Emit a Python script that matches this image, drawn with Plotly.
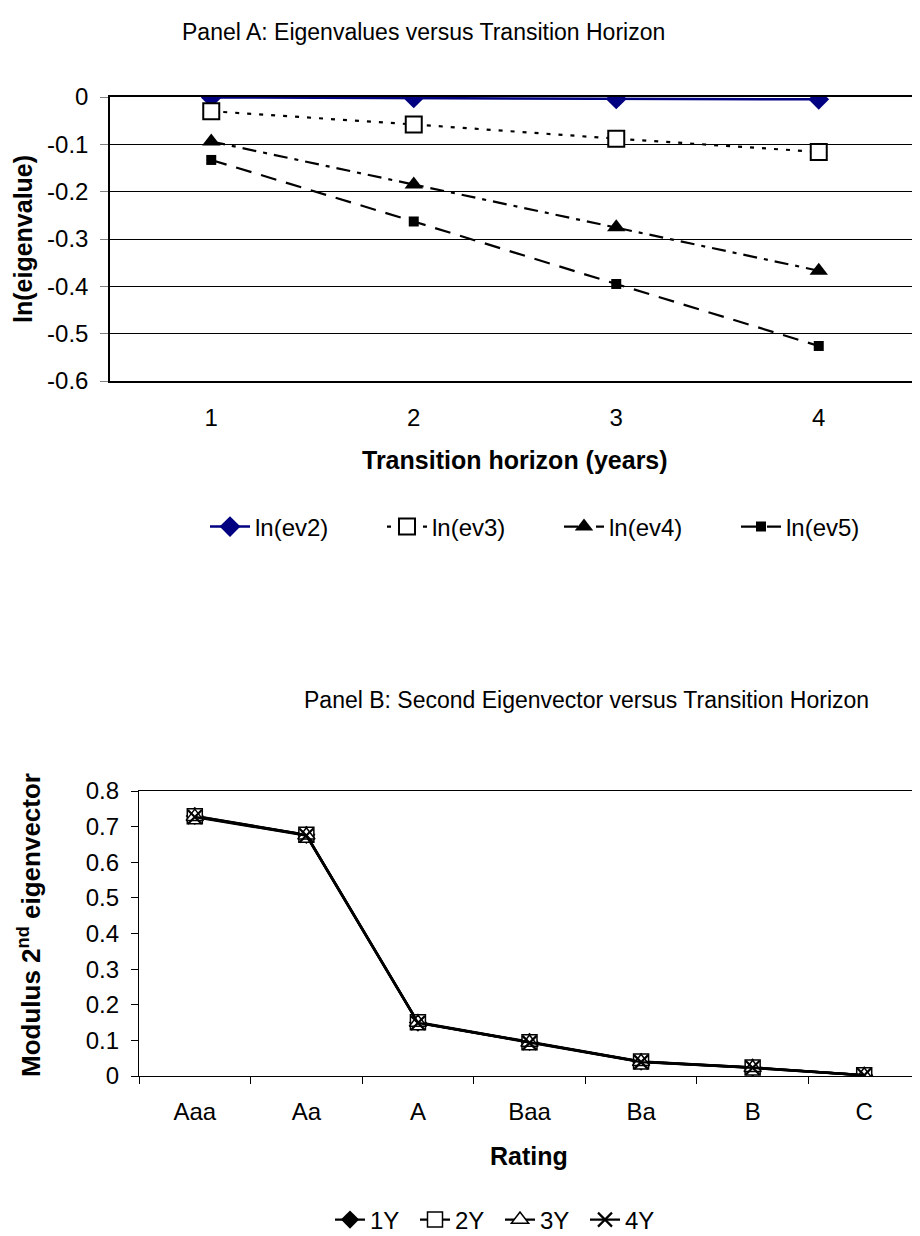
import plotly.graph_objects as go

# Panel A data
horizon = [1, 2, 3, 4]
ln_ev2 = [-0.001, -0.002, -0.004, -0.005]
ln_ev3 = [-0.030, -0.058, -0.088, -0.116]
ln_ev4 = [-0.094, -0.185, -0.275, -0.367]
ln_ev5 = [-0.133, -0.263, -0.395, -0.526]
a_ytick_vals = [0, -0.1, -0.2, -0.3, -0.4, -0.5, -0.6]
a_ytick_text = ["0", "-0.1", "-0.2", "-0.3", "-0.4", "-0.5", "-0.6"]

# Panel B data
ratings = ["Aaa", "Aa", "A", "Baa", "Ba", "B", "C"]
ev_1y = [0.730, 0.677, 0.150, 0.096, 0.040, 0.024, 0.002]
ev_2y = [0.729, 0.677, 0.151, 0.095, 0.041, 0.024, 0.002]
ev_3y = [0.728, 0.676, 0.150, 0.094, 0.040, 0.023, 0.002]
ev_4y = [0.727, 0.675, 0.149, 0.093, 0.039, 0.023, 0.002]
b_ytick_vals = [0, 0.1, 0.2, 0.3, 0.4, 0.5, 0.6, 0.7, 0.8]
b_ytick_text = ["0", "0.1", "0.2", "0.3", "0.4", "0.5", "0.6", "0.7", "0.8"]

FONT = "Liberation Sans, Arial, sans-serif"
OFF = 8                      # page body margin in the browser
W, H = 920 - OFF, 1236 - OFF
FS = 24


def px(X):
    return (X - OFF) / W


def py(Y):
    return 1 - (Y - OFF) / H


fig = go.Figure()

# Panel A
fig.add_trace(go.Scatter(x=horizon, y=ln_ev2, name="ln(ev2)", mode="lines+markers",
                         line=dict(color="#000080", width=2.5),
                         marker=dict(symbol="diamond", size=16, color="#000080"),
                         xaxis="x", yaxis="y", legend="legend"))
fig.add_trace(go.Scatter(x=horizon, y=ln_ev3, name="ln(ev3)", mode="lines+markers",
                         line=dict(color="black", width=2.2, dash="4px,8px"),
                         marker=dict(symbol="square", size=16, color="white",
                                     line=dict(color="black", width=2)),
                         xaxis="x", yaxis="y", legend="legend"))
fig.add_trace(go.Scatter(x=horizon, y=ln_ev4, name="ln(ev4)", mode="lines+markers",
                         line=dict(color="black", width=2.2, dash="14px,7px,4px,7px"),
                         marker=dict(symbol="triangle-up", size=16, color="black"),
                         xaxis="x", yaxis="y", legend="legend"))
fig.add_trace(go.Scatter(x=horizon, y=ln_ev5, name="ln(ev5)", mode="lines+markers",
                         line=dict(color="black", width=2.2, dash="16px,10px"),
                         marker=dict(symbol="square", size=10, color="black"),
                         xaxis="x", yaxis="y", legend="legend"))

# Panel B
b_specs = [
    ("1Y", ev_1y, dict(symbol="diamond", size=14, color="black")),
    ("2Y", ev_2y, dict(symbol="square", size=15, color="white", line=dict(color="black", width=1.5))),
    ("3Y", ev_3y, dict(symbol="triangle-up", size=15, color="white", line=dict(color="black", width=1.5))),
    ("4Y", ev_4y, dict(symbol="x-thin", size=14, color="black", line=dict(color="black", width=2.2))),
]
for name, vals, mk in b_specs:
    fig.add_trace(go.Scatter(x=ratings, y=vals, name=name, mode="lines+markers",
                             line=dict(color="black", width=2.4), marker=mk,
                             xaxis="x2", yaxis="y2", legend="legend2"))

axis_font = dict(family=FONT, size=FS, color="black")

fig.update_layout(
    width=W, height=H,
    margin=dict(l=0, r=0, t=0, b=0, autoexpand=False),
    paper_bgcolor="white", plot_bgcolor="white",
    font=dict(family=FONT, size=FS, color="black"),
    xaxis=dict(domain=[px(110), 1], range=[0.5, 4.5], tickvals=horizon,
               ticktext=[str(h) for h in horizon],
               showgrid=False, zeroline=False, showline=True, mirror=True,
               linecolor="black", linewidth=2, ticks="", tickfont=axis_font,
               ticklabelstandoff=14, automargin=False, anchor="y"),
    yaxis=dict(domain=[py(381), py(97)], range=[-0.6, 0],
               tickvals=a_ytick_vals, ticktext=a_ytick_text,
               showgrid=True, gridcolor="black", gridwidth=1,
               zeroline=False, showline=True, linecolor="black", linewidth=1.5,
               ticks="outside", ticklen=8, tickcolor="#808080", tickfont=axis_font,
               ticklabelstandoff=7, automargin=False, anchor="x"),
    xaxis2=dict(domain=[px(139), 1], range=[-0.5, 6.5], type="category",
                showgrid=False, zeroline=False, showline=True, mirror=True,
                linecolor="black", linewidth=1.2, ticks="outside", ticklen=7,
                tickson="boundaries", tickcolor="black", tickfont=axis_font,
                ticklabelstandoff=14, automargin=False, anchor="y2"),
    yaxis2=dict(domain=[py(1076), py(791)], range=[0, 0.8],
                tickvals=b_ytick_vals, ticktext=b_ytick_text,
                showgrid=False, zeroline=False, showline=True,
                linecolor="black", linewidth=1.2, ticks="outside", ticklen=7,
                tickcolor="black", tickfont=axis_font, ticklabelstandoff=7,
                automargin=False, anchor="x2"),
    legend=dict(orientation="h", x=px(559), xanchor="center", y=py(527), yanchor="middle",
                font=dict(family=FONT, size=FS), bgcolor="rgba(0,0,0,0)",
                entrywidth=122, entrywidthmode="pixels", itemwidth=40),
    legend2=dict(orientation="h", x=px(500), xanchor="center", y=py(1220), yanchor="middle",
                 font=dict(family=FONT, size=FS), bgcolor="rgba(0,0,0,0)",
                 entrywidth=40, entrywidthmode="pixels", itemwidth=30),
    showlegend=True,
)


def ann(text, X, Y, size, angle=0):
    return dict(text=text, x=px(X), y=py(Y), xref="paper", yref="paper",
                xanchor="center", yanchor="middle", textangle=angle,
                showarrow=False, font=dict(family=FONT, size=size, color="black"))


annotations = [
    ann("Panel A: Eigenvalues versus Transition Horizon", 423, 32, 23),
    ann("<b>Transition horizon (years)</b>", 515, 460, 25),
    ann("<b>ln(eigenvalue)</b>", 23, 239, 25, -90),
    ann("Panel B: Second Eigenvector versus Transition Horizon", 586, 700, 23),
    ann("<b>Rating</b>", 529, 1156, 25),
    ann("<b>Modulus 2<sup>nd</sup> eigenvector</b>", 29, 925, 26, -90),
]
fig.update_layout(annotations=annotations)

fig.write_html("out.html")
